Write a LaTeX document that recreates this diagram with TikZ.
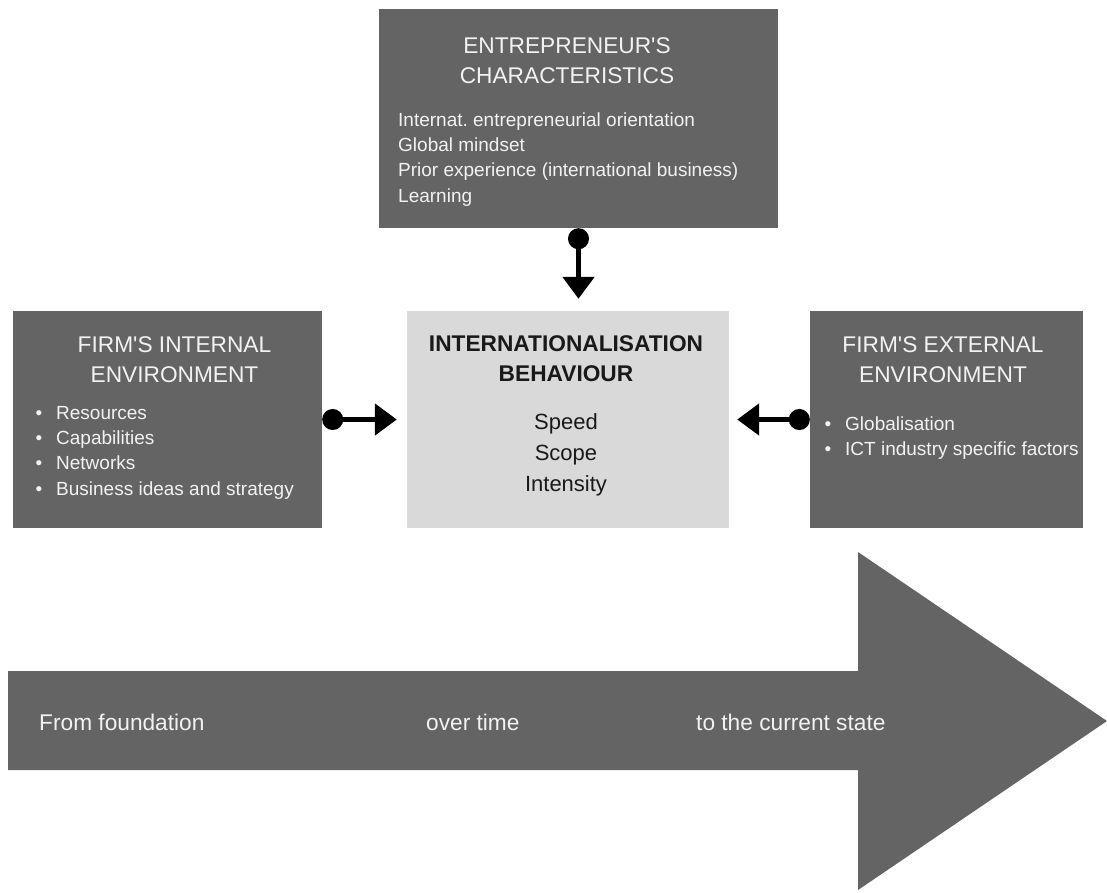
\documentclass[tikz,border=0pt]{standalone}
\usepackage{fontspec}
\setmainfont{Liberation Sans}[Ligatures=TeXOff]
\usetikzlibrary{arrows.meta}
\frenchspacing

\definecolor{boxgray}{RGB}{100,100,100}
\definecolor{lightgray}{RGB}{217,217,217}
\definecolor{paletext}{RGB}{242,242,242}
\definecolor{darktext}{RGB}{25,25,25}

\newcommand\headfont{\fontsize{22.7pt}{30pt}\selectfont}
\newcommand\bodyfont{\fontsize{19pt}{25.4pt}\selectfont}
\newcommand\itemfont{\fontsize{22pt}{31pt}\selectfont}
\newcommand\bul[1]{\makebox[20.5pt][l]{\textbullet}#1}

\tikzset{
  darkbox/.style={fill=boxgray, draw=none, inner sep=0pt},
  lightbox/.style={fill=lightgray, draw=none, inner sep=0pt},
  heading/.style={anchor=base, inner sep=0pt, text=paletext, font=\headfont},
  listtext/.style={anchor=base west, inner sep=0pt, text=paletext, font=\bodyfont},
  link/.style={draw=black, line width=5pt,
    {Circle[length=21pt]}-{Triangle[width=31pt,length=22pt]}},
  flowtext/.style={anchor=base west, inner sep=0pt, text=paletext, font=\headfont},
}

\begin{document}
\begin{tikzpicture}[x=1pt,y=-1pt]
  \useasboundingbox (0,0) rectangle (1107,892);

  % the four boxes
  \node[darkbox, minimum width=399pt, minimum height=219pt] (ent) at (578.5,118.5) {};
  \node[darkbox, minimum width=309pt, minimum height=217pt] (int) at (167.5,419.5) {};
  \node[lightbox, minimum width=322pt, minimum height=217pt] (beh) at (568,419.5) {};
  \node[darkbox, minimum width=273pt, minimum height=217pt] (ext) at (946.5,419.5) {};

  % entrepreneur's characteristics
  \node[heading] (entT) at (567,53)
    {\parbox[t]{380pt}{\centering ENTREPRENEUR'S\\CHARACTERISTICS}};
  \node[listtext] (entL) at (398,126)
    {\parbox[t]{375pt}{Internat. entrepreneurial orientation\\
      Global mindset\\Prior experience (international business)\\Learning}};

  % firm's internal environment
  \node[heading] (intT) at (174.5,352)
    {\parbox[t]{300pt}{\centering FIRM'S INTERNAL\\ENVIRONMENT}};
  \node[listtext] (intL) at (35.5,419)
    {\parbox[t]{285pt}{\bul{Resources}\\\bul{Capabilities}\\
      \bul{Networks}\\\bul{Business ideas and strategy}}};

  % internationalisation behaviour
  \node[heading, text=darktext, font=\headfont\bfseries] (behT) at (566,351)
    {\parbox[t]{315pt}{\centering INTERNATIONALISATION\\BEHAVIOUR}};
  \node[heading, text=darktext, font=\itemfont] (behL) at (566,429)
    {\parbox[t]{315pt}{\centering Speed\\Scope\\Intensity}};

  % firm's external environment
  \node[heading] (extT) at (943,352)
    {\parbox[t]{270pt}{\centering FIRM'S EXTERNAL\\ENVIRONMENT}};
  \node[listtext] (extL) at (824.5,430)
    {\parbox[t]{260pt}{\bul{Globalisation}\\\bul{ICT industry specific factors}}};

  % influences on the behaviour
  \draw[link, shorten >=12pt] (ent.south) -- (ent.south |- beh.north);
  \draw[link, shorten >=10pt] (int.east) -- (int.east -| beh.west);
  \draw[link, shorten >=8pt] (ext.west) -- (ext.west -| beh.east);

  % time arrow
  \fill[boxgray] (8,671) -- (858,671) -- (858,552) -- (1107,721) -- (858,890)
    -- (858,770) -- (8,770) -- cycle;
  \node[flowtext] (t1) at (39,730) {From foundation};
  \node[flowtext] (t2) at (426,730) {over time};
  \node[flowtext] (t3) at (696,730) {to the current state};
\end{tikzpicture}
\end{document}
